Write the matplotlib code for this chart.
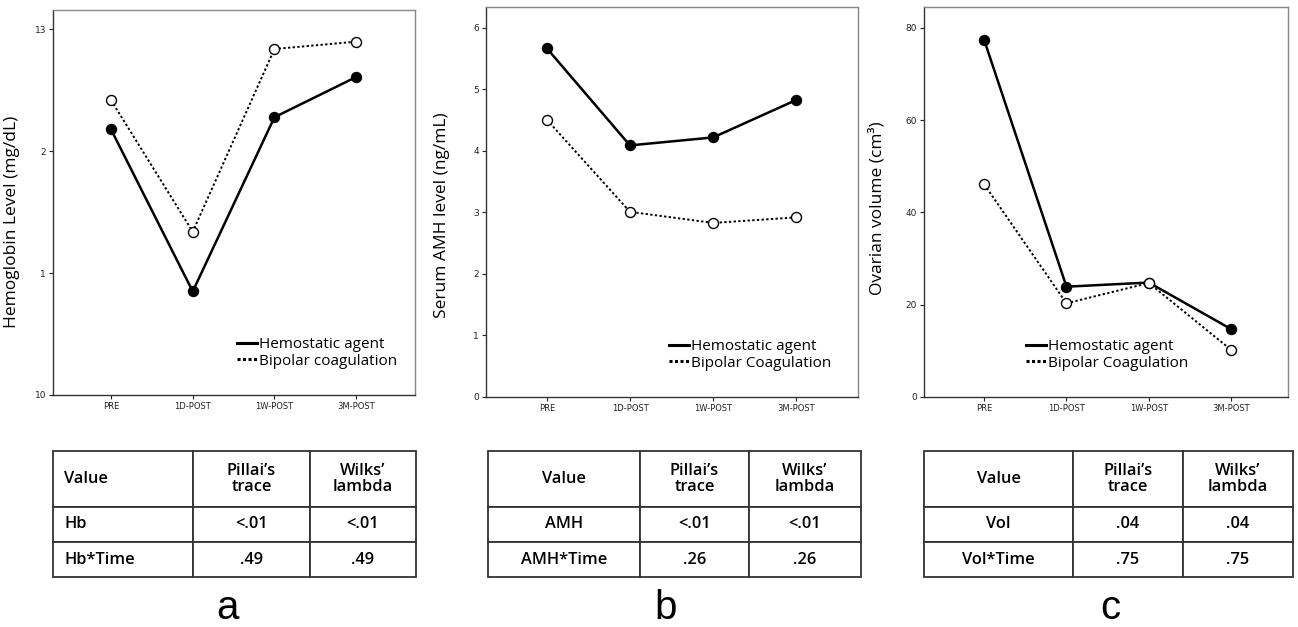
import matplotlib
matplotlib.use("Agg")
import matplotlib.pyplot as plt
from matplotlib.lines import Line2D

# ---------------- data ----------------
time_points = ["PRE", "1D-POST", "1W-POST", "3M-POST"]
series_names_a = ["Hemostatic agent", "Bipolar coagulation"]
series_names_bc = ["Hemostatic agent", "Bipolar Coagulation"]

hb_hemostatic = [12.18, 10.85, 12.28, 12.61]
hb_bipolar = [12.42, 11.34, 12.84, 12.90]
hb_ticks = [10, 11, 12, 13]
hb_ticklabels = ["10", "1", "2", "13"]

amh_hemostatic = [5.67, 4.09, 4.22, 4.83]
amh_bipolar = [4.51, 3.01, 2.83, 2.92]
amh_ticks = [0, 1, 2, 3, 4, 5, 6]

vol_hemostatic = [77.4, 23.9, 24.8, 14.7]
vol_bipolar = [46.1, 20.3, 24.7, 10.2]
vol_ticks = [0, 20, 40, 60, 80]

table_header = ["Value", "Pillai\u2019s\ntrace", "Wilks\u2019\nlambda"]
table_a = [["Hb", "<.01", "<.01"], ["Hb*Time", ".49", ".49"]]
table_b = [["AMH", "<.01", "<.01"], ["AMH*Time", ".26", ".26"]]
table_c = [["Vol", ".04", ".04"], ["Vol*Time", ".75", ".75"]]
panel_letters = ["a", "b", "c"]

# ---------------- figure ----------------
W, H = 1298, 627
fig = plt.figure(figsize=(W / 100, H / 100), dpi=100)
fig.patch.set_facecolor("white")


def px_axes(l, t, r, b):
    return fig.add_axes([l / W, 1 - b / H, (r - l) / W, (b - t) / H])


panels = [
    dict(box=(53, 10, 415, 395), hem=hb_hemostatic, bip=hb_bipolar, ylim=(10, 13.16),
         ticks=hb_ticks, ticklabels=hb_ticklabels, xlim=(-0.71, 3.72),
         ylabel="Hemoglobin Level (mg/dL)", names=series_names_a,
         leg=(0.508, 0.151), lab=(-0.091, 0.45)),
    dict(box=(486, 7, 858, 397), hem=amh_hemostatic, bip=amh_bipolar, ylim=(0, 6.34),
         ticks=amh_ticks, ticklabels=[str(t) for t in amh_ticks], xlim=(-0.73, 3.74),
         ylabel="Serum AMH level (ng/mL)", names=series_names_bc,
         leg=(0.492, 0.149), lab=(-0.097, 0.467)),
    dict(box=(924, 7, 1288, 397), hem=vol_hemostatic, bip=vol_bipolar, ylim=(0, 84.5),
         ticks=vol_ticks, ticklabels=[str(t) for t in vol_ticks], xlim=(-0.73, 3.69),
         ylabel="Ovarian volume (cm\u00b3)", names=series_names_bc,
         leg=(0.280, 0.149), lab=(-0.107, 0.485)),
]

x = list(range(len(time_points)))
for p in panels:
    ax = px_axes(*p["box"])
    ax.plot(x, p["hem"], color="black", lw=1.8, ls="-", marker="o",
            ms=7.2, mfc="black", mec="black", zorder=3)
    ax.plot(x, p["bip"], color="black", lw=1.4, ls=(0, (1.2, 1.2)), marker="o",
            ms=7.2, mfc="white", mec="black", mew=1.0, zorder=3)
    ax.set_xlim(*p["xlim"])
    ax.set_ylim(*p["ylim"])
    ax.set_xticks(x)
    ax.set_xticklabels(time_points, fontsize=6, family="DejaVu Sans")
    ax.set_yticks(p["ticks"])
    ax.set_yticklabels(p["ticklabels"], fontsize=6.5, family="DejaVu Sans")
    ax.tick_params(direction="out", length=3, width=0.8, pad=2, colors="#222222")
    for s in ax.spines.values():
        s.set_color("#333333")
        s.set_linewidth(1.0)
    ax.spines["top"].set_color("#888888")
    ax.spines["right"].set_color("#888888")
    ax.set_ylabel(p["ylabel"], fontsize=12.5, family="Open Sans", fontweight="medium")
    ax.yaxis.set_label_coords(*p["lab"])
    h1 = Line2D([], [], color="black", lw=2.2, ls="-")
    h2 = Line2D([], [], color="black", lw=2.2, ls=(0, (1.0, 0.8)))
    ax.legend([h1, h2], p["names"], loc="upper left", bbox_to_anchor=p["leg"],
              frameon=False, handlelength=1.3, handletextpad=0.15, labelspacing=0.12,
              borderaxespad=0, borderpad=0,
              prop=dict(family="Open Sans", size=11, weight="medium"))

# ---------------- tables ----------------
tables = [
    dict(box=(53, 451, 416, 577), cells=table_a, cols=[140, 117, 106], align0="left", letter_x=228),
    dict(box=(488, 451, 861, 577), cells=table_b, cols=[152, 109, 112], align0="center", letter_x=666),
    dict(box=(924, 451, 1293, 577), cells=table_c, cols=[149, 110, 110], align0="center", letter_x=1110),
]

for t, letter in zip(tables, panel_letters):
    tax = px_axes(*t["box"])
    tax.axis("off")
    tot = sum(t["cols"])
    cw = [c / tot for c in t["cols"]]
    tb = tax.table(cellText=[table_header] + t["cells"], colWidths=cw,
                   bbox=[0, 0, 1, 1], cellLoc="center")
    tb.auto_set_font_size(False)
    heights = [56, 35, 35]
    for (r, c), cell in tb.get_celld().items():
        cell.set_height(heights[r])
        cell.set_edgecolor("#333333")
        cell.set_linewidth(1.3)
        txt = cell.get_text()
        txt.set_fontsize(11.8)
        txt.set_family("Open Sans")
        txt.set_fontweight("semibold")
        txt.set_linespacing(1.0)
        if c == 0:
            if t["align0"] == "left":
                cell._loc = "left"
                cell.PAD = 0.08
                txt.set_ha("left")
            else:
                txt.set_ha("center")
    fig.text(t["letter_x"] / W, 1 - 608 / H, letter, fontsize=29,
             family="Liberation Sans", ha="center", va="center")

fig.savefig("out.png", dpi=100, facecolor="white")
